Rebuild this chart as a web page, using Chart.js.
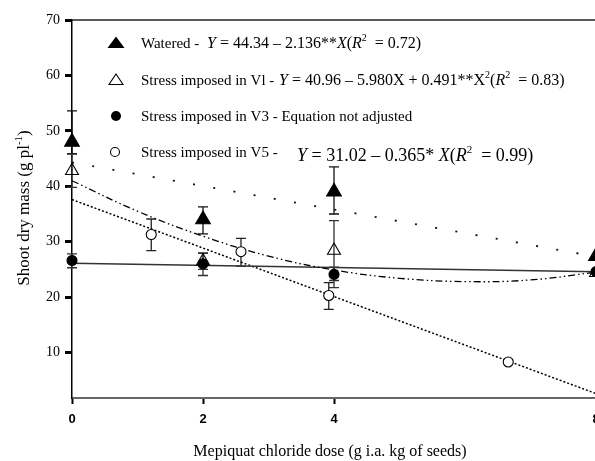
<!DOCTYPE html>
<html>
<head>
<meta charset="utf-8">
<script src="https://cdn.jsdelivr.net/npm/chart.js@4.4.1/dist/chart.umd.min.js"></script>
<style>
  html, body { margin: 0; padding: 0; background: #fff; overflow: hidden; }
  #wrap { position: absolute; left: 0; top: 0; width: 620px; height: 461px; }
</style>
</head>
<body>
<div id="wrap"><canvas id="c"></canvas></div>
<script>
// ---- data ----
const xTicks = [0, 2, 4, 8];
const yTicks = [10, 20, 30, 40, 50, 60, 70];

const wateredX = [0, 2, 4, 8];
const wateredY = [48.0, 34.0, 39.0, 27.4];
const wateredLo = [45.9, 31.4, 35.0, 27.4];
const wateredHi = [53.6, 36.3, 43.5, 27.4];

const v1X = [0, 2, 4, 8];
const v1Y = [42.8, 26.5, 28.4, 24.4];
const v1Lo = [39.8, 25.0, 23.0, 24.4];
const v1Hi = [45.8, 28.0, 33.8, 24.4];

const v3X = [0, 2, 4, 8];
const v3Y = [26.6, 26.0, 24.1, 24.6];
const v3Lo = [25.3, 23.9, 21.7, 24.6];
const v3Hi = [27.8, 27.9, 25.4, 24.6];

const v5X = [1.21, 2.58, 3.92, 6.66];
const v5Y = [31.3, 28.2, 20.3, 8.3];
const v5Lo = [28.4, 25.6, 17.8, 8.0];
const v5Hi = [34.1, 30.6, 22.6, 8.6];

// fitted lines
const wateredFitX = [0, 8];
const wateredFitY = [44.3, 27.3];
const v1FitX = [0, 1, 2, 3, 4, 5, 6, 7, 8];
const v1FitY = [41.0, 35.5, 31.0, 27.4, 24.9, 23.4, 22.8, 23.1, 24.5];
const v3FitX = [0, 8];
const v3FitY = [26.1, 24.6];
const v5FitX = [0, 8];
const v5FitY = [37.6, 2.6];

const pts = (xs, ys) => xs.map((x, i) => ({ x: x, y: ys[i] }));

const SERIF = '"Liberation Serif", "Times New Roman", serif';

const errorBars = [
  { x: wateredX, lo: wateredLo, hi: wateredHi, color: '#111' },
  { x: v1X, lo: v1Lo, hi: v1Hi, color: '#333' },
  { x: v3X, lo: v3Lo, hi: v3Hi, color: '#333' },
  { x: v5X, lo: v5Lo, hi: v5Hi, color: '#222' }
];

const errorPlugin = {
  id: 'errorBars',
  beforeDatasetsDraw(chart) {
    const ctx = chart.ctx, xs = chart.scales.x, ys = chart.scales.y;
    ctx.save();
    ctx.lineWidth = 1.3;
    errorBars.forEach(s => {
      ctx.strokeStyle = s.color;
      s.x.forEach((xv, i) => {
        if (s.lo[i] === s.hi[i]) return;
        const px = xs.getPixelForValue(xv);
        const p1 = ys.getPixelForValue(s.lo[i]);
        const p2 = ys.getPixelForValue(s.hi[i]);
        ctx.beginPath();
        ctx.moveTo(px, p1); ctx.lineTo(px, p2);
        ctx.moveTo(px - 5, p1); ctx.lineTo(px + 5, p1);
        ctx.moveTo(px - 5, p2); ctx.lineTo(px + 5, p2);
        ctx.stroke();
      });
    });
    ctx.restore();
  }
};

function drawRich(ctx, segs, x, baseline, size) {
  let cx = x;
  segs.forEach(s => {
    const st = s.i ? 'italic ' : '';
    if (s.sup) {
      ctx.font = st + Math.round(size * 0.62) + 'px ' + SERIF;
      ctx.fillText(s.t, cx, baseline - size * 0.42);
    } else {
      ctx.font = st + size + 'px ' + SERIF;
      ctx.fillText(s.t, cx, baseline);
    }
    cx += ctx.measureText(s.t).width;
  });
  return cx;
}

const decorPlugin = {
  id: 'decor',
  afterDraw(chart) {
    const ctx = chart.ctx, a = chart.chartArea;
    ctx.save();
    // top border
    ctx.strokeStyle = '#222';
    ctx.lineWidth = 1.5;
    ctx.beginPath();
    ctx.moveTo(a.left, a.top); ctx.lineTo(a.right + 10, a.top);
    ctx.stroke();

    ctx.fillStyle = '#000';
    ctx.strokeStyle = '#000';
    ctx.textBaseline = 'alphabetic';
    ctx.textAlign = 'left';

    // legend symbols
    ctx.beginPath();
    ctx.moveTo(116, 36.5); ctx.lineTo(124.5, 48); ctx.lineTo(107.5, 48); ctx.closePath();
    ctx.fill();
    ctx.lineWidth = 1.1;
    ctx.beginPath();
    ctx.moveTo(116, 74); ctx.lineTo(123, 84.5); ctx.lineTo(109, 84.5); ctx.closePath();
    ctx.stroke();
    ctx.beginPath(); ctx.arc(116, 116, 5, 0, Math.PI * 2); ctx.fill();
    ctx.beginPath(); ctx.arc(115, 152, 4.5, 0, Math.PI * 2); ctx.stroke();

    // legend texts
    drawRich(ctx, [{ t: 'Watered -' }], 141, 48, 15);
    drawRich(ctx, [
      { t: 'Y', i: 1 }, { t: ' = 44.34 \u2013 2.136**' }, { t: 'X', i: 1 },
      { t: '(' }, { t: 'R', i: 1 }, { t: '2', sup: 1 }, { t: '  = 0.72)' }
    ], 207, 48, 16);

    drawRich(ctx, [{ t: 'Stress imposed in Vl -' }], 141, 85, 15);
    drawRich(ctx, [
      { t: 'Y', i: 1 }, { t: ' = 40.96 \u2013 5.980X + 0.491**X' }, { t: '2', sup: 1 },
      { t: '(' }, { t: 'R', i: 1 }, { t: '2', sup: 1 }, { t: '  = 0.83)' }
    ], 279, 85, 16);

    drawRich(ctx, [{ t: 'Stress imposed in V3 - Equation not adjusted' }], 141, 121, 15);

    drawRich(ctx, [{ t: 'Stress imposed in V5 -' }], 141, 157, 15);
    drawRich(ctx, [
      { t: 'Y', i: 1 }, { t: ' = 31.02 \u2013 0.365* ' }, { t: 'X', i: 1 },
      { t: '(' }, { t: 'R', i: 1 }, { t: '2', sup: 1 }, { t: '  = 0.99)' }
    ], 297, 161, 18);

    // x axis title
    ctx.font = '16px ' + SERIF;
    ctx.textAlign = 'center';
    ctx.fillText('Mepiquat chloride dose (g i.a. kg of seeds)', 330, 456);

    // y axis title (rotated)
    ctx.save();
    ctx.translate(29, 208);
    ctx.rotate(-Math.PI / 2);
    ctx.textAlign = 'left';
    ctx.font = '17px ' + SERIF;
    const main = 'Shoot dry mass (g pl';
    const w1 = ctx.measureText(main).width;
    ctx.font = '11px ' + SERIF;
    const w2 = ctx.measureText('-1').width;
    ctx.font = '17px ' + SERIF;
    const w3 = ctx.measureText(')').width;
    const total = w1 + w2 + w3;
    let sx = -total / 2;
    ctx.fillText(main, sx, 0); sx += w1;
    ctx.font = '11px ' + SERIF;
    ctx.fillText('-1', sx, -7); sx += w2;
    ctx.font = '17px ' + SERIF;
    ctx.fillText(')', sx, 0);
    ctx.restore();

    ctx.restore();
  }
};

const lineDs = (data, dash, width, color, tension) => ({
  type: 'line', data: data, borderColor: color, borderWidth: width,
  borderDash: dash, pointRadius: 0, fill: false, tension: tension || 0,
  showLine: true, clip: false, order: 2
});

const pointDs = (data, style, radius, fill, border) => ({
  type: 'scatter', data: data, pointStyle: style, pointRadius: radius,
  pointBackgroundColor: fill, pointBorderColor: border, pointBorderWidth: 1.1,
  showLine: false, clip: false, order: 1
});

new Chart(document.getElementById('c'), {
  type: 'scatter',
  data: {
    datasets: [
      lineDs(pts(wateredFitX, wateredFitY), [2, 18.5], 1.8, '#111'),
      lineDs(pts(v1FitX, v1FitY), [7, 3, 1.5, 3, 1.5, 3], 1.3, '#000', 0.4),
      lineDs(pts(v3FitX, v3FitY), [], 1.5, '#333'),
      lineDs(pts(v5FitX, v5FitY), [2, 2], 1.5, '#000'),
      pointDs(pts(wateredX, wateredY), 'triangle', 8.5, '#000', '#000'),
      pointDs(pts(v1X, v1Y), 'triangle', 7.5, 'rgba(255,255,255,0)', '#000'),
      pointDs(pts(v3X, v3Y), 'circle', 5, '#000', '#000'),
      pointDs(pts(v5X, v5Y), 'circle', 5, '#fff', '#000')
    ]
  },
  options: {
    responsive: true,
    maintainAspectRatio: false,
    animation: false,
    events: [],
    layout: { padding: { left: 0, right: 24, top: 20, bottom: 0 } },
    plugins: { legend: { display: false }, tooltip: { enabled: false } },
    scales: {
      x: {
        type: 'linear', min: 0, max: 8,
        afterBuildTicks: s => { s.ticks = xTicks.map(v => ({ value: v })); },
        afterFit: s => { s.height = 63; },
        ticks: {
          autoSkip: false, maxRotation: 0, padding: 8, color: '#000',
          font: { family: '"Liberation Sans", Arial, sans-serif', size: 13, weight: 'bold' }
        },
        grid: { drawOnChartArea: false, drawTicks: true, tickLength: 6, tickWidth: 2, tickColor: '#000' },
        border: { display: true, color: '#666', width: 2 }
      },
      y: {
        type: 'linear', min: 1.8, max: 70,
        afterBuildTicks: s => { s.ticks = yTicks.map(v => ({ value: v })); },
        afterFit: s => { s.width = 72; },
        ticks: {
          padding: 5, color: '#000',
          font: { family: SERIF, size: 14 }
        },
        grid: { drawOnChartArea: false, drawTicks: true, tickLength: 7, tickWidth: 3, tickColor: '#000' },
        border: { display: true, color: '#000', width: 1.5 }
      }
    }
  },
  plugins: [errorPlugin, decorPlugin]
});
</script>
</body>
</html>
